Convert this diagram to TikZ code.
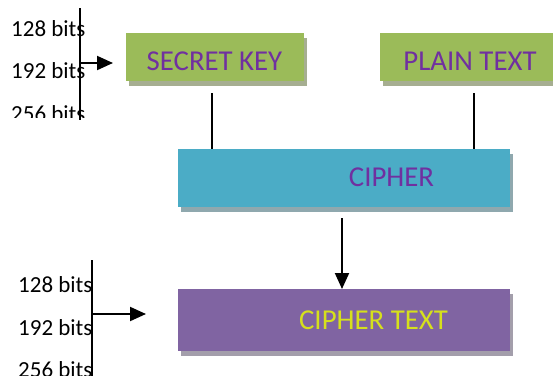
\documentclass[tikz,border=0pt]{standalone}
\usepackage{fontspec}
\setmainfont{Carlito}
\usetikzlibrary{arrows.meta,shadows}
\definecolor{kgreen}{HTML}{9BBB59}
\definecolor{kgreenshadow}{HTML}{A6AE91}
\definecolor{kblue}{HTML}{4BACC6}
\definecolor{kblueshadow}{HTML}{8FA8AE}
\definecolor{kpurple}{HTML}{8064A2}
\definecolor{kpurpleshadow}{HTML}{A39EAB}
\definecolor{ktext}{HTML}{7030A0}
\definecolor{kyellow}{HTML}{D6E01C}
\tikzset{
  boxnode/.style={draw=none, inner sep=0pt, outer sep=0pt},
  boxtext/.style={inner sep=0pt, font=\fontsize{28.8}{30}\selectfont},
  bitlabel/.style={anchor=base west, inner sep=0pt, font=\fontsize{23}{25}\selectfont},
  plainline/.style={line width=2pt},
  arrowline/.style={line width=2pt, -{Triangle[length=16pt,width=14pt]}},
}
\begin{document}
\begin{tikzpicture}[x=1pt,y=-1pt]
\useasboundingbox (0,0) rectangle (553,375);
% shadows
\fill[kgreenshadow] (129,38) rectangle (307,86);
\fill[kgreenshadow] (383,38) rectangle (559,86);
\fill[kblueshadow] (181,154) rectangle (513,212);
\fill[kpurpleshadow] (181,294) rectangle (513,356);
% boxes
\node[boxnode, fill=kgreen, minimum width=178pt, minimum height=48pt] (sk) at (215,57) {};
\node[boxnode, fill=kgreen, minimum width=176pt, minimum height=48pt] (pt) at (468,57) {};
\node[boxnode, fill=kblue, minimum width=332pt, minimum height=58pt] (ci) at (344,178) {};
\node[boxnode, fill=kpurple, minimum width=332pt, minimum height=62pt] (ct) at (344,320) {};
% box texts
\node[boxtext, text=ktext] (skt) at (214.5,61) {SECRET KEY};
\node[boxtext, text=ktext] (ptt) at (470,61) {PLAIN TEXT};
\node[boxtext, text=ktext] (cit) at (391.5,177) {CIPHER};
\node[boxtext, text=kyellow] (ctt) at (373.5,320) {CIPHER TEXT};
% connectors
\coordinate (skl) at (212,93);
\coordinate (ptl) at (474,93);
\draw[plainline] (skl) -- (skl |- ci.north);
\draw[plainline] (ptl) -- (ptl |- ci.north);
\coordinate (ca) at (342,218);
\draw[arrowline] (ca) -- (ca |- ct.north);
% top-left bit sizes
\begin{scope}
\clip (0,0) rectangle (120,117);
\node[bitlabel] (t128) at (11,36) {128 bits};
\node[bitlabel] (t192) at (11,78) {192 bits};
\node[bitlabel] (t256) at (11,121) {256 bits};
\end{scope}
\coordinate (tltop) at (80,8);
\coordinate (tlbot) at (80,120);
\coordinate (tlmid) at (80,63);
\coordinate (tltip) at (113,63);
\draw[plainline] (tltop) -- (tlbot);
\draw[arrowline] (tlmid) -- (tltip);
% bottom-left bit sizes
\node[bitlabel] (b128) at (18,292) {128 bits};
\node[bitlabel] (b192) at (18,335) {192 bits};
\node[bitlabel] (b256) at (18,377) {256 bits};
\coordinate (bltop) at (92,260);
\coordinate (blbot) at (92,376);
\coordinate (blmid) at (92,314);
\coordinate (bltip) at (146,314);
\draw[plainline] (bltop) -- (blbot);
\draw[arrowline] (blmid) -- (bltip);
\end{tikzpicture}
\end{document}
